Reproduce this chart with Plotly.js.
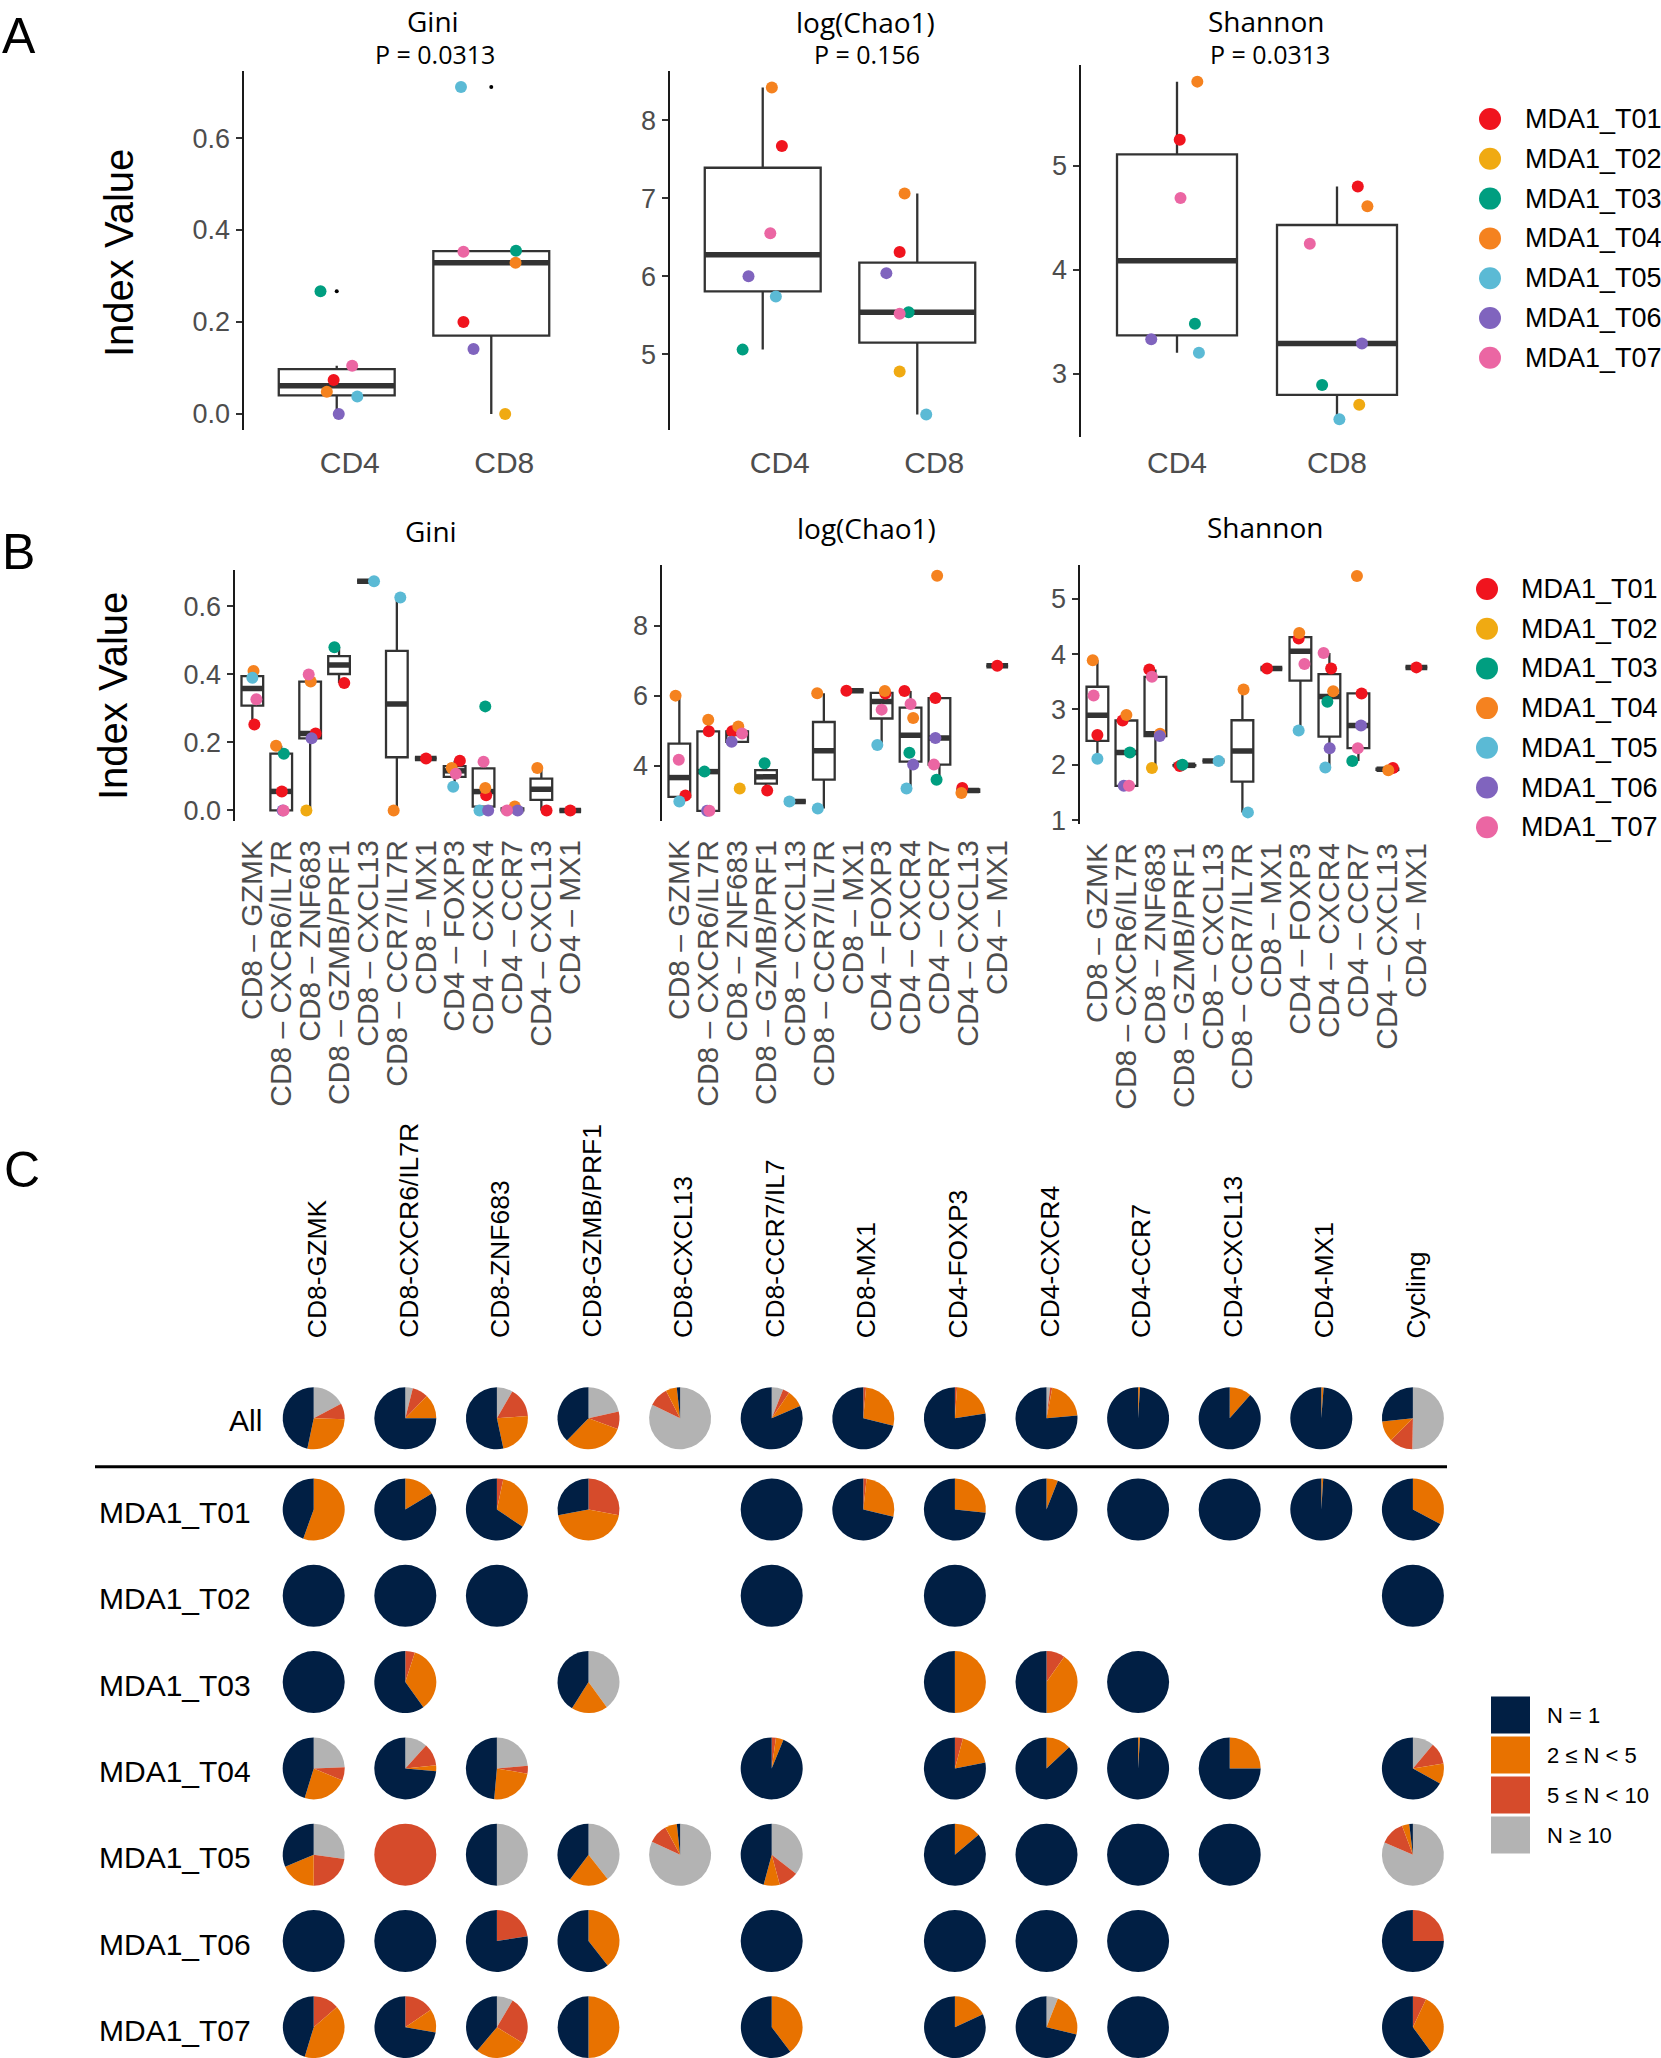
<!DOCTYPE html>
<html><head><meta charset="utf-8">
<script src="https://cdn.plot.ly/plotly-3.0.1.min.js"></script>
<style>html,body{margin:0;padding:0;background:#fff;}#chart{width:1661px;height:2058px;}</style>
</head><body><div id="chart"></div>
<script>
// ================= DATA =================
const samples = ['MDA1_T01','MDA1_T02','MDA1_T03','MDA1_T04','MDA1_T05','MDA1_T06','MDA1_T07'];
const sampleColors = ['#F0141E','#F0AA12','#009E80','#F5821F','#5BBAD5','#8064BE','#EB66A3'];

// Panel A (order of samples as above; null = not present)
const groupsA = ['CD4','CD8'];
const giniCD4 = [0.074, null, 0.267, 0.048, 0.038, 0.0, 0.105];
const giniCD8 = [0.200, 0.0, 0.355, 0.329, 0.711, 0.141, 0.353];
const chaoCD4 = [7.67, null, 5.06, 8.42, 5.74, 6.00, 6.55];
const chaoCD8 = [6.31, 4.78, 5.54, 7.06, 4.23, 6.04, 5.52];
const shanCD4 = [5.25, null, 3.48, 5.81, 3.20, 3.33, 4.69];
const shanCD8 = [4.80, 2.70, 2.89, 4.61, 2.56, 3.29, 4.25];
const pValues = ['P = 0.0313','P = 0.156','P = 0.0313'];
const metricNames = ['Gini','log(Chao1)','Shannon'];

// Panel B
const clustersB = ['CD8 \u2013 GZMK','CD8 \u2013 CXCR6/IL7R','CD8 \u2013 ZNF683','CD8 \u2013 GZMB/PRF1','CD8 \u2013 CXCL13','CD8 \u2013 CCR7/IL7R','CD8 \u2013 MX1','CD4 \u2013 FOXP3','CD4 \u2013 CXCR4','CD4 \u2013 CCR7','CD4 \u2013 CXCL13','CD4 \u2013 MX1'];
const giniB = [
  [0.253,null,null,0.410,0.390,null,0.327],
  [0.056,null,0.167,0.190,null,0.0,0.0],
  [0.226,0.0,null,0.379,null,0.212,0.400],
  [0.375,null,0.480,null,null,null,null],
  [null,null,null,null,0.674,null,null],
  [null,null,null,0.0,0.626,null,null],
  [0.153,null,null,null,null,null,null],
  [0.146,null,null,0.125,0.070,null,0.108],
  [0.045,null,0.306,0.066,0.0,0.0,0.143],
  [null,null,null,0.012,null,0.0,0.0],
  [0.0,null,null,0.125,null,null,null],
  [0.0,null,null,null,null,null,null]
];
const chaoB = [
  [3.15,null,null,6.00,2.98,null,4.17],
  [4.98,null,3.83,5.31,null,2.71,2.71],
  [4.98,3.35,null,5.12,null,4.68,4.92],
  [3.29,null,4.07,null,null,null,null],
  [null,null,null,null,2.98,null,null],
  [null,null,null,6.07,2.78,null,null],
  [6.14,null,null,null,null,null,null],
  [6.06,null,null,6.13,4.59,null,5.60],
  [6.13,null,4.37,5.36,3.35,4.03,5.76],
  [5.93,null,3.60,9.42,null,4.79,4.03],
  [3.36,null,null,3.22,null,null,null],
  [6.85,null,null,null,null,null,null]
];
const shanB = [
  [2.54,null,null,3.89,2.11,null,3.25],
  [2.80,null,2.22,2.90,null,1.62,1.62],
  [3.72,1.94,null,2.56,null,2.52,3.59],
  [1.98,null,2.00,null,null,null,null],
  [null,null,null,null,2.07,null,null],
  [null,null,null,3.36,1.14,null,null],
  [3.74,null,null,null,null,null,null],
  [4.28,null,null,4.38,2.62,null,3.82],
  [3.74,null,3.14,3.33,1.95,2.30,4.02],
  [3.29,null,2.07,5.41,null,2.71,2.30],
  [1.94,null,null,1.90,null,null,null],
  [3.76,null,null,null,null,null,null]
];

// Panel C: per row, per cluster: [N=1, 2<=N<5, 5<=N<10, N>=10] proportions (null = absent)
const clustersC = ['CD8-GZMK','CD8-CXCR6/IL7R','CD8-ZNF683','CD8-GZMB/PRF1','CD8-CXCL13','CD8-CCR7/IL7','CD8-MX1','CD4-FOXP3','CD4-CXCR4','CD4-CCR7','CD4-CXCL13','CD4-MX1','Cycling'];
const cloneLevels = ['N = 1','2 \u2264 N < 5','5 \u2264 N < 10','N \u2265 10'];
const cloneColors = ['#011F44','#E87200','#D64B2B','#B3B3B3'];
const rowsC = ['All','MDA1_T01','MDA1_T02','MDA1_T03','MDA1_T04','MDA1_T05','MDA1_T06','MDA1_T07'];
const pieAll = [[0.467,0.278,0.083,0.172],[0.75,0.128,0.083,0.039],[0.534,0.228,0.156,0.083],[0.382,0.32,0.092,0.217],[0.017,0.058,0.103,0.822],[0.815,0.09,0.035,0.06],[0.711,0.275,0.014,0],[0.775,0.214,0.011,0],[0.764,0.206,0.011,0.019],[0.99,0.01,0,0],[0.885,0.115,0,0],[0.988,0.012,0,0],[0.267,0.108,0.122,0.503]];
const pieT01 = [[0.445,0.555,0,0],[0.836,0.164,0,0],[0.656,0.311,0.033,0],[0.28,0.44,0.28,0],null,[1,0,0,0],[0.712,0.271,0.017,0],[0.733,0.267,0,0],[0.94,0.06,0,0],[1,0,0,0],[1,0,0,0],[0.99,0.01,0,0],[0.672,0.328,0,0]];
const pieT02 = [[1,0,0,0],[1,0,0,0],[1,0,0,0],null,null,[1,0,0,0],null,[1,0,0,0],null,null,null,null,[1,0,0,0]];
const pieT03 = [[1,0,0,0],[0.599,0.351,0.05,0],null,[0.411,0.19,0,0.4],null,null,null,[0.5,0.5,0,0],[0.5,0.403,0.097,0],[1,0,0,0],null,null,null];
const pieT04 = [[0.453,0.234,0.069,0.244],[0.736,0.031,0.117,0.117],[0.486,0.236,0.042,0.236],null,null,[0.938,0.04,0.022,0],null,[0.78,0.178,0.042,0],[0.87,0.13,0,0],[0.99,0.01,0,0],[0.75,0.25,0,0],null,[0.669,0.106,0.114,0.111]];
const pieT05 = [[0.314,0.186,0.228,0.272],[0,0,1,0],[0.5,0,0,0.5],[0.398,0.208,0,0.394],[0.017,0.062,0.103,0.818],[0.458,0.084,0.102,0.356],null,[0.861,0.139,0,0],[1,0,0,0],[1,0,0,0],[1,0,0,0],null,[0.019,0.038,0.128,0.815]];
const pieT06 = [[1,0,0,0],[1,0,0,0],[0.775,0,0.225,0],[0.606,0.394,0,0],null,[1,0,0,0],null,[1,0,0,0],[1,0,0,0],[1,0,0,0],null,null,[0.75,0,0.25,0]];
const pieT07 = [[0.453,0.411,0.136,0],[0.722,0.123,0.155,0],[0.389,0.273,0.253,0.085],[0.5,0.5,0,0],null,[0.603,0.397,0,0],null,[0.818,0.182,0,0],[0.712,0.228,0,0.06],[1,0,0,0],null,null,[0.6,0.33,0.07,0]];
const pieRows = [pieAll,pieT01,pieT02,pieT03,pieT04,pieT05,pieT06,pieT07];

// ================= LAYOUT / STYLE (positions) =================
// horizontal jitter offsets of points (fraction of category spacing)
const jitA = {
  gini: [[-0.02,null,-0.105,-0.064,0.133,0.013,0.10],[-0.18,0.09,0.16,0.157,-0.196,-0.115,-0.18]],
  chao: [[0.124,null,-0.13,0.059,0.085,-0.092,0.049],[-0.114,-0.114,-0.056,-0.082,0.058,-0.2,-0.114]],
  shan: [[0.017,null,0.112,0.127,0.137,-0.161,0.022],[0.13,0.139,-0.093,0.19,0.015,0.156,-0.17]]
};
const jitGiniB = [[0.07,0,0,0.04,0,0,0.14],[0.02,0,0.09,-0.18,0,0.05,0.08],[0.19,-0.13,0,0.02,0,0.05,-0.05],[0.18,0,-0.16,0,0,0,0],[0,0,0,0,0.21,0,0],[0,0,0,-0.11,0.12,0,0],[0.01,0,0,0,0,0,0],[0.18,0,0,-0.1,-0.05,0,0.04],[0.09,0,0.06,0.06,-0.14,0.16,0],[0,0,0,0.08,0,0.18,-0.19],[0.18,0,0,-0.14,0,0,0],[0,0,0,0,0,0,0]];
const jitChaoB = [[0.21,0,0,-0.13,0,0,-0.02],[0.02,0,-0.13,0,0,-0.04,0.04],[-0.17,0.09,0,0.04,0,-0.19,0.17],[0.04,0,-0.05,0,0,0,0],[0,0,0,0,-0.19,0,0],[0,0,0,-0.23,-0.21,0,0],[-0.22,0,0,0,0,0,0],[0.13,0,0,0.11,-0.15,0,0],[-0.21,0,-0.04,0.09,-0.14,0.09,0],[-0.14,0,-0.1,-0.08,0,-0.14,-0.19],[-0.21,0,0,-0.24,0,0,0],[0,0,0,0,0,0,0]];
const jitShanB = [[0,0,0,-0.16,0,0,-0.13],[-0.13,0,0.12,0,0,-0.09,0.09],[-0.21,-0.12,0,0.16,0,0.15,-0.12],[-0.16,0,-0.07,0,0,0,0],[0,0,0,0,0.18,0,0],[0,0,0,0.04,0.19,0,0],[-0.15,0,0,0,0,0,0],[-0.06,0,0,-0.04,-0.06,0,0.14],[0.06,0,-0.07,0.13,-0.14,0.01,-0.2],[0.11,0,-0.21,-0.05,0,0.09,-0.02],[0.19,0,0,0.03,0,0,0],[0,0,0,0,0,0,0]];

const W = 1661, H = 2058;
const SANS = 'Liberation Sans, Arial, sans-serif';
const TSANS = 'Open Sans, Noto Sans, sans-serif';
const BOXCOL = '#333333';

const traces = [], annotations = [], shapes = [];
const axisIds = n => n === 1 ? ['x','y'] : ['x' + n, 'y' + n];

function q7(s, p) { const h = (s.length - 1) * p, lo = Math.floor(h), hi = Math.ceil(h); return s[lo] + (h - lo) * (s[hi] - s[lo]); }
function boxStats(vals) {
  const s = vals.filter(v => v !== null).sort((a, b) => a - b);
  const q1 = q7(s, 0.25), med = q7(s, 0.5), q3 = q7(s, 0.75), iqr = q3 - q1;
  const lo = q1 - 1.5 * iqr, hi = q3 + 1.5 * iqr;
  const inside = s.filter(v => v >= lo - 1e-12 && v <= hi + 1e-12);
  return { q1, med, q3, lf: Math.min(...inside), uf: Math.max(...inside), out: s.filter(v => v < lo - 1e-12 || v > hi + 1e-12) };
}

function addBoxPanel(n, catVals, catJit, ptSize) {
  const [xa, ya] = axisIds(n);
  const pos = [], q1 = [], med = [], q3 = [], lf = [], uf = [];
  const mX = [], mY = [], oX = [], oY = [], pX = [], pY = [], pC = [], pT = [];
  catVals.forEach((vals, i) => {
    const p = i + 1, st = boxStats(vals);
    pos.push(p); q1.push(st.q1); med.push(st.med); q3.push(st.q3); lf.push(st.lf); uf.push(st.uf);
    mX.push(p - 0.375, p + 0.375, null); mY.push(st.med, st.med, null);
    st.out.forEach(v => { oX.push(p); oY.push(v); });
    vals.forEach((v, s) => { if (v === null) return; pX.push(p + (catJit[i][s] || 0)); pY.push(v); pC.push(sampleColors[s]); pT.push(samples[s]); });
  });
  traces.push({ type: 'box', xaxis: xa, yaxis: ya, x: pos, q1, median: med, q3, lowerfence: lf, upperfence: uf,
    width: 0.75, boxpoints: false, whiskerwidth: 0, fillcolor: '#ffffff', line: { color: BOXCOL, width: 2.3 },
    hoverinfo: 'skip', showlegend: false });
  traces.push({ type: 'scatter', mode: 'lines', xaxis: xa, yaxis: ya, x: mX, y: mY, line: { color: BOXCOL, width: 5.5 }, hoverinfo: 'skip', showlegend: false });
  traces.push({ type: 'scatter', mode: 'markers', xaxis: xa, yaxis: ya, x: oX, y: oY, marker: { color: '#000', size: 4 }, hoverinfo: 'skip', showlegend: false });
  traces.push({ type: 'scatter', mode: 'markers', xaxis: xa, yaxis: ya, x: pX, y: pY, text: pT, marker: { color: pC, size: ptSize }, hoverinfo: 'text+y', showlegend: false });
}

addBoxPanel(1, [giniCD4, giniCD8], jitA.gini, 12);
addBoxPanel(2, [chaoCD4, chaoCD8], jitA.chao, 12);
addBoxPanel(3, [shanCD4, shanCD8], jitA.shan, 12);
addBoxPanel(4, giniB, jitGiniB, 12);
addBoxPanel(5, chaoB, jitChaoB, 12);
addBoxPanel(6, shanB, jitShanB, 12);

// ---- pies (panel C)
const colX0 = 313.7, colDX = 91.6, rowAllY = 1418.3, rowY0 = 1509.5, rowDY = 86.3, PIE_R = 31;
pieRows.forEach((row, r) => {
  const cy = r === 0 ? rowAllY : rowY0 + (r - 1) * rowDY;
  row.forEach((v, j) => {
    if (!v) return;
    const cx = colX0 + j * colDX;
    traces.push({ type: 'pie', values: v.slice().reverse(), labels: cloneLevels.slice().reverse(),
      marker: { colors: cloneColors.slice().reverse(), line: { width: 0 } },
      sort: false, direction: 'clockwise', rotation: 0, textinfo: 'none', hoverinfo: 'label+percent',
      name: rowsC[r] + ' ' + clustersC[j], showlegend: false,
      domain: { x: [(cx - PIE_R) / W, (cx + PIE_R) / W], y: [1 - (cy + PIE_R) / H, 1 - (cy - PIE_R) / H] } });
  });
});

// ---- axes
function xAx(l, r, labels, anchor, o) {
  return Object.assign({ domain: [l / W, r / W], range: [0.4, labels.length + 0.6], tickmode: 'array',
    tickvals: labels.map((_, i) => i + 1), ticktext: labels, showline: false, ticks: '', showgrid: false, zeroline: false,
    anchor, fixedrange: true, tickfont: { family: SANS, size: 30, color: '#4D4D4D' } }, o);
}
function yAx(t, b, range, tickvals, anchor, fmt) {
  return { domain: [1 - b / H, 1 - t / H], range, tickmode: 'array', tickvals, tickformat: fmt, showline: true,
    linecolor: '#1a1a1a', linewidth: 2.5, ticks: 'outside', ticklen: 6, tickwidth: 2, tickcolor: '#333',
    showgrid: false, zeroline: false, anchor, fixedrange: true, tickfont: { family: SANS, size: 27, color: '#4D4D4D' } };
}

// ---- text helpers
function txt(text, x, y, size, o) {
  annotations.push(Object.assign({ text, x: x / W, y: 1 - y / H, xref: 'paper', yref: 'paper', showarrow: false,
    font: { family: SANS, size, color: '#000' }, xanchor: 'center', yanchor: 'middle' }, o || {}));
}
txt('A', 0, 36, 50, { xanchor: 'left' });
txt('B', 0, 552, 50, { xanchor: 'left' });
txt('C', 2, 1170, 50, { xanchor: 'left' });

// A titles
[[433, 21, 435], [865, 22, 867], [1266, 21, 1270]].forEach((p, i) => {
  txt(metricNames[i], p[0], p[1], 28, { font: { family: TSANS, size: 28, color: '#000' } });
  txt(pValues[i], p[2], 54, 25, { font: { family: TSANS, size: 25, color: '#000' } });
});
// B titles
[[431, 531], [866, 528], [1265, 527]].forEach((p, i) => {
  txt(metricNames[i], p[0], p[1], 28, { font: { family: TSANS, size: 28, color: '#000' } });
});
txt('Index Value', 119, 253, 40, { textangle: -90 });
txt('Index Value', 113, 696, 40, { textangle: -90 });

// sample legends (A & B)
function sampleLegend(cx, lx, y0, dy) {
  samples.forEach((s, i) => {
    const cy = y0 + i * dy;
    shapes.push({ type: 'circle', xref: 'paper', yref: 'paper', x0: (cx - 11) / W, x1: (cx + 11) / W,
      y0: 1 - (cy + 11) / H, y1: 1 - (cy - 11) / H, fillcolor: sampleColors[i], line: { width: 0 } });
    txt(s, lx, cy, 27, { xanchor: 'left' });
  });
}
sampleLegend(1490, 1523, 119, 39.8);
sampleLegend(1487, 1519, 589, 39.7);

// C headers and row labels
clustersC.forEach((c, j) => txt(c, colX0 + j * colDX + 3, 1340, 26.5, { textangle: -90, yanchor: 'bottom' }));
rowsC.forEach((r, i) => {
  if (i === 0) txt(r, 264, rowAllY + 2, 30, { xanchor: 'right' });
  else txt(r, 97, rowY0 + (i - 1) * rowDY + 3, 30, { xanchor: 'left' });
});
shapes.push({ type: 'line', xref: 'paper', yref: 'paper', x0: 95 / W, x1: 1447 / W, y0: 1 - 1466.7 / H, y1: 1 - 1466.7 / H, line: { color: '#000', width: 3 } });
// clone-size legend
cloneLevels.forEach((lab, i) => {
  const cy = 1715 + i * 40;
  shapes.push({ type: 'rect', xref: 'paper', yref: 'paper', x0: 1491 / W, x1: 1530 / W, y0: 1 - (cy + 18.5) / H, y1: 1 - (cy - 18.5) / H, fillcolor: cloneColors[i], line: { width: 0 } });
  txt(lab, 1545, cy, 22, { xanchor: 'left' });
});

const layout = {
  width: W, height: H, margin: { l: 0, r: 0, t: 0, b: 0 }, paper_bgcolor: '#ffffff', plot_bgcolor: 'rgba(0,0,0,0)',
  showlegend: false, font: { family: SANS, color: '#000' },
  xaxis: xAx(244, 584, groupsA, 'y', { ticklabelstandoff: 12, ticklabelshift: 13 }),
  yaxis: yAx(71, 430, [-0.035, 0.746], [0, 0.2, 0.4, 0.6], 'x', '.1f'),
  xaxis2: xAx(670, 1010, groupsA, 'y2', { ticklabelstandoff: 12, ticklabelshift: 17 }),
  yaxis2: yAx(71, 430, [4.03, 8.63], [5, 6, 7, 8], 'x2', 'd'),
  xaxis3: xAx(1081, 1433, groupsA, 'y3', { ticklabelstandoff: 5 }),
  yaxis3: yAx(65, 437, [2.39, 5.97], [3, 4, 5], 'x3', 'd'),
  xaxis4: xAx(235, 587.6, clustersB, 'y4', { tickangle: -90, ticklabelstandoff: 12 }),
  yaxis4: yAx(570, 821, [-0.031, 0.707], [0, 0.2, 0.4, 0.6], 'x4', '.1f'),
  xaxis5: xAx(662, 1014.6, clustersB, 'y5', { tickangle: -90, ticklabelstandoff: 12 }),
  yaxis5: yAx(565, 821, [2.42, 9.73], [4, 6, 8], 'x5', 'd'),
  xaxis6: xAx(1080, 1433.8, clustersB, 'y6', { tickangle: -90, ticklabelstandoff: 12 }),
  yaxis6: yAx(565, 824, [0.93, 5.61], [1, 2, 3, 4, 5], 'x6', 'd'),
  annotations, shapes
};
Plotly.newPlot('chart', traces, layout, { staticPlot: true, displayModeBar: false });
</script></body></html>
